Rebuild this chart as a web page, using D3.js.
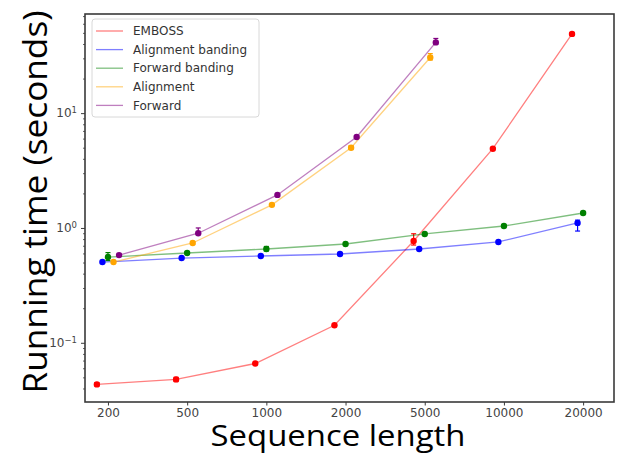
<!DOCTYPE html>
<html>
<head>
<meta charset="utf-8">
<script src="https://cdn.jsdelivr.net/npm/d3@7/dist/d3.min.js"></script>
<style>
html,body{margin:0;padding:0;background:#fff;}
svg{display:block;}
</style>
</head>
<body>
<svg id="chart" width="617" height="454"></svg>
<script>
// ---- data ----
const categories = ["200", "500", "1000", "2000", "5000", "10000", "20000"];
const seriesNames = ["EMBOSS", "Alignment banding", "Forward banding", "Alignment", "Forward"];
const seriesColors = ["red", "blue", "green", "orange", "purple"];
const seriesOffsets = [-0.14, -0.07, 0, 0.07, 0.14];

const embossValues = [0.0434, 0.048, 0.066, 0.142, 0.77, 4.9, 49];
const alignBandValues = [0.505, 0.547, 0.57, 0.593, 0.656, 0.755, 1.107];
const fwdBandValues = [0.558, 0.605, 0.656, 0.725, 0.887, 1.04, 1.35];
const alignValues = [0.505, 0.74, 1.59, 5.0, 30.5];
const fwdValues = [0.58, 0.90, 1.94, 6.2, 41.3];

// error bar low / high bounds (same order)
const embossErr = [[0.042,0.045],[0.046,0.050],[0.065,0.067],[0.140,0.144],[0.71,0.89],[4.8,5.0],[48,50]];
const alignBandErr = [[0.5,0.51],[0.54,0.555],[0.565,0.575],[0.59,0.6],[0.65,0.66],[0.75,0.76],[0.94,1.17]];
const fwdBandErr = [[0.52,0.61],[0.59,0.62],[0.63,0.69],[0.72,0.73],[0.88,0.895],[1.03,1.05],[1.33,1.37]];
const alignErr = [[0.5,0.51],[0.72,0.76],[1.57,1.61],[4.85,5.2],[29,33]];
const fwdErr = [[0.575,0.585],[0.88,1.0],[1.92,1.96],[6.1,6.35],[40,44.7]];

const yMajorTicks = [0.1, 1, 10];
const yTickExps = ["\u22121", "0", "1"];

const allValues = [embossValues, alignBandValues, fwdBandValues, alignValues, fwdValues];
const allErrs = [embossErr, alignBandErr, fwdBandErr, alignErr, fwdErr];

// ---- layout ----
const svg = d3.select("#chart");
const L = 85, R = 614, T = 14, B = 402;

const x = d3.scaleLinear().domain([-0.29, 6.39]).range([L, R]);
const y = d3.scaleLog().domain([0.0305, 73]).range([B, T]);

const tickColor = "#444";
const spineColor = "#3a3a3a";

// x axis
const xAxis = d3.axisBottom(x)
  .tickValues(d3.range(categories.length))
  .tickFormat(i => categories[i])
  .tickSize(3.5).tickPadding(2.5);
const gx = svg.append("g").attr("transform", `translate(0,${B})`).call(xAxis);
gx.select(".domain").remove();
gx.selectAll("line").attr("stroke", spineColor).attr("stroke-width", 1);
gx.selectAll("text").attr("font-family", "DejaVu Sans").attr("font-size", 12).attr("fill", tickColor);

// y axis major
const yAxis = d3.axisLeft(y).tickValues(yMajorTicks).tickFormat(() => "").tickSize(4);
const gy = svg.append("g").attr("transform", `translate(${L},0)`).call(yAxis);
gy.select(".domain").remove();
gy.selectAll("line").attr("stroke", spineColor).attr("stroke-width", 1);
gy.selectAll(".tick").each(function(d, i) {
  const t = d3.select(this).append("text")
    .attr("x", -8).attr("dy", "0.32em")
    .attr("text-anchor", "end")
    .attr("font-family", "DejaVu Sans").attr("font-size", 12).attr("fill", tickColor);
  t.append("tspan").text("10");
  t.append("tspan").attr("dy", "-0.5em").attr("font-size", 8.5).text(yTickExps[i]);
});

// y minor ticks
const minor = [];
[0.01, 0.1, 1, 10].forEach(dec => {
  for (let k = 2; k <= 9; k++) {
    const v = dec * k;
    if (v >= y.domain()[0] && v <= y.domain()[1]) minor.push(v);
  }
});
const yMinor = d3.axisLeft(y).tickValues(minor).tickFormat(() => "").tickSize(2);
const gym = svg.append("g").attr("transform", `translate(${L},0)`).call(yMinor);
gym.select(".domain").remove();
gym.selectAll("line").attr("stroke", spineColor).attr("stroke-width", 0.8);

// spines
svg.append("rect").attr("x", L).attr("y", T).attr("width", R - L).attr("height", B - T)
  .attr("fill", "none").attr("stroke", spineColor).attr("stroke-width", 1.6);

// series
const line = d3.line().x(d => d[0]).y(d => d[1]);
allValues.forEach((vals, s) => {
  const col = seriesColors[s];
  const pts = vals.map((v, i) => [x(i + seriesOffsets[s]), y(v)]);
  svg.append("path").attr("d", line(pts)).attr("fill", "none")
    .attr("stroke", col).attr("stroke-opacity", 0.5).attr("stroke-width", 1.3);
  const g = svg.append("g");
  allErrs[s].forEach((e, i) => {
    const cx = x(i + seriesOffsets[s]);
    g.append("line").attr("x1", cx).attr("x2", cx).attr("y1", y(e[0])).attr("y2", y(e[1]))
      .attr("stroke", col).attr("stroke-width", 1.2);
    [e[0], e[1]].forEach(v => {
      g.append("line").attr("x1", cx - 2.5).attr("x2", cx + 2.5).attr("y1", y(v)).attr("y2", y(v))
        .attr("stroke", col).attr("stroke-width", 1.2);
    });
  });
  g.selectAll("circle").data(vals).join("circle")
    .attr("cx", (v, i) => x(i + seriesOffsets[s]))
    .attr("cy", v => y(v))
    .attr("r", 3.2).attr("fill", col);
});

// legend
const lg = svg.append("g");
lg.append("rect").attr("x", 92).attr("y", 19).attr("width", 167).attr("height", 98)
  .attr("rx", 3).attr("fill", "#fff").attr("fill-opacity", 0.85)
  .attr("stroke", "#d8d8d8").attr("stroke-width", 1);
seriesNames.forEach((name, i) => {
  const yy = 31 + i * 18.6;
  lg.append("line").attr("x1", 96).attr("x2", 123).attr("y1", yy).attr("y2", yy)
    .attr("stroke", seriesColors[i]).attr("stroke-opacity", 0.5).attr("stroke-width", 1.3);
  lg.append("text").attr("x", 133).attr("y", yy).attr("dy", "0.35em")
    .attr("font-family", "DejaVu Sans").attr("font-size", 12).attr("fill", "#333").text(name);
});

// axis titles
svg.append("text").attr("x", 338).attr("y", 446).attr("text-anchor", "middle")
  .attr("font-family", "Open Sans").attr("font-size", 30).attr("fill", "#000")
  .attr("textLength", 255).attr("lengthAdjust", "spacingAndGlyphs")
  .text("Sequence length");
svg.append("text").attr("transform", "translate(47,202) rotate(-90)").attr("text-anchor", "middle")
  .attr("font-family", "Open Sans").attr("font-size", 32).attr("fill", "#000")
  .attr("textLength", 383).attr("lengthAdjust", "spacingAndGlyphs")
  .text("Running time (seconds)");
</script>
</body>
</html>
